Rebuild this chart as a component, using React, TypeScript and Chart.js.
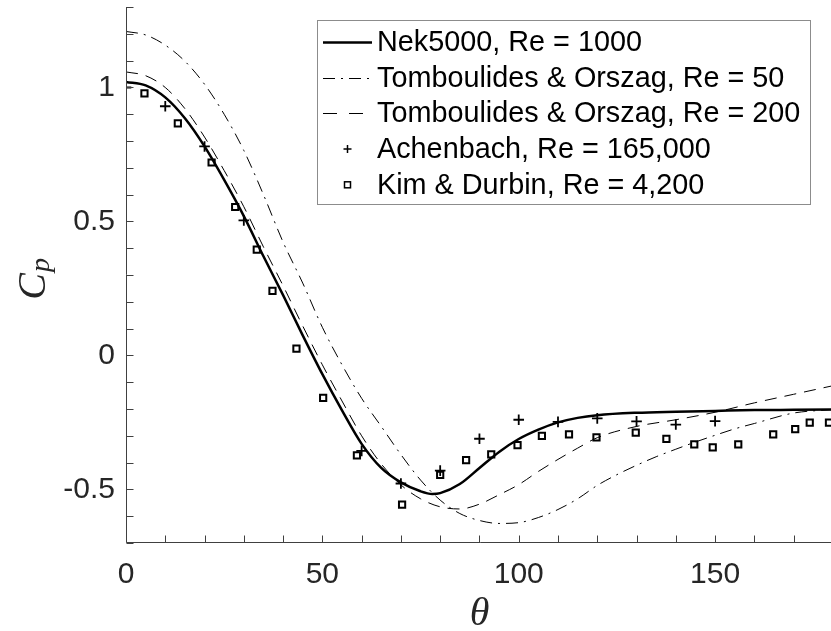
import React, { useEffect, useRef } from 'react';
import { Chart, registerables } from 'chart.js';
Chart.register(...registerables);

// ---- data ----
const thetaNek = [0, 5, 10, 15, 20, 25, 30, 35, 40, 45, 50, 55, 60, 65, 70, 75, 78, 80, 85, 90, 95, 100, 105, 110, 115, 120, 130, 140, 150, 160, 170, 180];
const cpNek = [1.021, 1.008, 0.963, 0.885, 0.78, 0.655, 0.52, 0.37, 0.225, 0.075, -0.07, -0.205, -0.33, -0.42, -0.474, -0.507, -0.517, -0.514, -0.48, -0.42, -0.36, -0.312, -0.277, -0.25, -0.233, -0.223, -0.214, -0.21, -0.207, -0.204, -0.203, -0.202];

const theta50 = [0, 5, 10, 15, 20, 25, 30, 35, 40, 45, 50, 55, 60, 65, 70, 75, 80, 85, 90, 95, 100, 105, 110, 115, 120, 125, 130, 135, 140, 145, 150, 155, 160, 170, 180];
const cp50 = [1.209, 1.196, 1.158, 1.098, 1.012, 0.9, 0.765, 0.6, 0.423, 0.27, 0.105, -0.035, -0.16, -0.265, -0.37, -0.465, -0.54, -0.59, -0.616, -0.627, -0.624, -0.605, -0.575, -0.535, -0.485, -0.445, -0.41, -0.378, -0.35, -0.323, -0.298, -0.274, -0.254, -0.215, -0.202];

const theta200 = [0, 5, 10, 15, 20, 25, 30, 35, 40, 45, 50, 55, 60, 65, 70, 75, 80, 85, 90, 95, 100, 105, 110, 115, 120, 130, 140, 150, 160, 170, 180];
const cp200 = [1.058, 1.044, 1.0, 0.921, 0.815, 0.69, 0.555, 0.405, 0.26, 0.11, -0.035, -0.17, -0.3, -0.405, -0.483, -0.535, -0.565, -0.573, -0.555, -0.52, -0.482, -0.433, -0.388, -0.346, -0.307, -0.265, -0.24, -0.212, -0.177, -0.145, -0.113];

const thetaAch = [0, 10, 20, 30, 60, 70, 80, 90, 100, 110, 120, 130, 140, 150];
const cpAch = [1.0, 0.93, 0.78, 0.504, -0.356, -0.478, -0.43, -0.311, -0.24, -0.248, -0.235, -0.246, -0.258, -0.245];

const thetaKim = [4.7, 13.2, 21.8, 27.8, 33.3, 37.3, 43.4, 50.2, 58.8, 70.3, 80.0, 86.6, 93.0, 99.7, 105.9, 112.8, 119.8, 129.8, 137.6, 144.7, 149.4, 155.9, 164.8, 170.4, 174.1, 179.0];
const cpKim = [0.978, 0.866, 0.72, 0.554, 0.395, 0.241, 0.025, -0.158, -0.373, -0.557, -0.446, -0.391, -0.369, -0.335, -0.3, -0.295, -0.306, -0.288, -0.311, -0.332, -0.343, -0.332, -0.295, -0.275, -0.251, -0.251];

const seriesLabels = [
  'Nek5000, Re = 1000',
  'Tomboulides & Orszag, Re = 50',
  'Tomboulides & Orszag, Re = 200',
  'Achenbach, Re = 165,000',
  'Kim & Durbin, Re = 4,200',
];

const xTickValues = [0, 50, 100, 150];
const yTickValues = [-0.5, 0, 0.5, 1];
const xRange = [0, 180];
const yRange = [-0.7, 1.3];
const xMinorStep = 10;
const yMinorStep = 0.1;

const toXY = (xs: number[], ys: number[]) => xs.map((x, i) => ({ x, y: ys[i] }));

const AXIS_COLOR = '#404040';
const SANS = '"Liberation Sans", Arial, Helvetica, sans-serif';
const SERIF = '"Liberation Serif", "Times New Roman", serif';

const axesPlugin = {
  id: 'matlabAxes',
  afterDatasetsDraw(chart: any) {
    const { ctx, chartArea } = chart;
    const xs = chart.scales.x;
    const ys = chart.scales.y;
    const L = Math.round(chartArea.left) + 0.5;
    const B = Math.round(chartArea.bottom) - 0.5;
    const tickLen = 7;
    ctx.save();
    ctx.strokeStyle = AXIS_COLOR;
    ctx.lineWidth = 1;
    ctx.beginPath();
    ctx.moveTo(L, Math.round(chartArea.top));
    ctx.lineTo(L, B);
    ctx.lineTo(Math.round(chartArea.right) + 1, B);
    const nx = Math.round((xRange[1] - xRange[0]) / xMinorStep);
    for (let i = 0; i <= nx; i++) {
      const v = xRange[0] + i * xMinorStep;
      const px = Math.round(xs.getPixelForValue(v)) + 0.5;
      ctx.moveTo(px, B);
      ctx.lineTo(px, B - tickLen);
    }
    const ny = Math.round((yRange[1] - yRange[0]) / yMinorStep);
    for (let i = 0; i <= ny; i++) {
      const v = yRange[0] + i * yMinorStep;
      const py = Math.round(ys.getPixelForValue(v)) + 0.5;
      ctx.moveTo(L, py);
      ctx.lineTo(L + tickLen, py);
    }
    ctx.stroke();

    // axis titles
    ctx.fillStyle = '#262626';
    ctx.textBaseline = 'alphabetic';
    ctx.font = `italic 40px ${SERIF}`;
    ctx.textAlign = 'center';
    const cx = (chartArea.left + chartArea.right) / 2;
    ctx.fillText('\u03B8', cx, 625);

    ctx.save();
    ctx.translate(45, (chartArea.top + chartArea.bottom) / 2);
    ctx.rotate(-Math.PI / 2);
    ctx.font = `italic 40px ${SERIF}`;
    ctx.textAlign = 'right';
    ctx.fillText('C', 2, 0);
    ctx.font = `italic 28px ${SERIF}`;
    ctx.textAlign = 'left';
    ctx.fillText('p', 3, 4);
    ctx.restore();
    ctx.restore();
  },
};

const legendPlugin = {
  id: 'matlabLegend',
  afterDraw(chart: any) {
    const { ctx } = chart;
    const x0 = 317.5, y0 = 20.5, w = 493, h = 184;
    ctx.save();
    ctx.fillStyle = '#ffffff';
    ctx.fillRect(x0, y0, w, h);
    ctx.strokeStyle = '#8c8c8c';
    ctx.lineWidth = 1;
    ctx.strokeRect(x0, y0, w, h);
    const rowH = 35.7;
    chart.data.datasets.forEach((ds: any, i: number) => {
      const cy = 42 + i * rowH;
      ctx.save();
      ctx.strokeStyle = '#000';
      if (ds.showLine) {
        ctx.lineWidth = ds.borderWidth;
        ctx.setLineDash(ds.legendDash || []);
        ctx.beginPath();
        ctx.moveTo(323, Math.round(cy) + (ds.borderWidth % 2 ? 0.5 : 0));
        ctx.lineTo(372, Math.round(cy) + (ds.borderWidth % 2 ? 0.5 : 0));
        ctx.stroke();
      } else if (ds.pointStyle === 'cross') {
        ctx.lineWidth = 1.5;
        ctx.beginPath();
        ctx.moveTo(343.5, cy); ctx.lineTo(351.5, cy);
        ctx.moveTo(347.5, cy - 4); ctx.lineTo(347.5, cy + 4);
        ctx.stroke();
      } else {
        ctx.lineWidth = 1.5;
        ctx.strokeRect(344.5, cy - 3, 6, 6);
      }
      ctx.restore();
      ctx.fillStyle = '#000';
      ctx.font = `28.8px ${SANS}`;
      ctx.textAlign = 'left';
      ctx.textBaseline = 'middle';
      ctx.fillText(ds.label, 377, cy + 1);
    });
    ctx.restore();
  },
};

export default function App() {
  const ref = useRef<HTMLCanvasElement | null>(null);
  useEffect(() => {
    if (!ref.current) return;
    const chart = new Chart(ref.current, {
      type: 'scatter',
      data: {
        datasets: [
          {
            label: seriesLabels[0],
            data: toXY(thetaNek, cpNek),
            showLine: true,
            borderColor: '#000',
            borderWidth: 2.5,
            pointRadius: 0,
            cubicInterpolationMode: 'monotone',
            legendDash: [],
          } as any,
          {
            label: seriesLabels[1],
            data: toXY(theta50, cp50),
            showLine: true,
            borderColor: '#000',
            borderWidth: 1,
            borderDash: [12, 6, 2, 6],
            pointRadius: 0,
            cubicInterpolationMode: 'monotone',
            legendDash: [12, 6, 2, 6],
          } as any,
          {
            label: seriesLabels[2],
            data: toXY(theta200, cp200),
            showLine: true,
            borderColor: '#000',
            borderWidth: 1,
            borderDash: [12, 8],
            pointRadius: 0,
            cubicInterpolationMode: 'monotone',
            legendDash: [14, 12],
          } as any,
          {
            label: seriesLabels[3],
            data: toXY(thetaAch, cpAch),
            showLine: false,
            pointStyle: 'cross',
            pointRadius: 5.3,
            pointBorderWidth: 1.8,
            borderColor: '#000',
            pointBorderColor: '#000',
            pointHoverRadius: 5.3,
          } as any,
          {
            label: seriesLabels[4],
            data: toXY(thetaKim, cpKim),
            showLine: false,
            pointStyle: 'rect',
            pointRadius: 4.4,
            pointBorderWidth: 2,
            borderColor: '#000',
            pointBorderColor: '#000',
            pointBackgroundColor: 'rgba(0,0,0,0)',
            backgroundColor: 'rgba(0,0,0,0)',
          } as any,
        ],
      },
      options: {
        responsive: false,
        animation: false,
        devicePixelRatio: 1,
        layout: { padding: { top: 3, right: 6, left: 0, bottom: 0 } },
        plugins: {
          legend: { display: false },
          tooltip: { enabled: false },
          title: { display: false },
        },
        scales: {
          x: {
            type: 'linear',
            min: xRange[0],
            max: xRange[1],
            afterBuildTicks: (s: any) => {
              s.ticks = xTickValues.map((v) => ({ value: v }));
            },
            afterFit: (s: any) => {
              s.height = 88;
              s.paddingLeft = 0;
              s.paddingRight = 0;
            },
            grid: { display: false, drawTicks: false },
            border: { display: false },
            ticks: {
              font: { family: SANS, size: 30 },
              color: '#262626',
              padding: 14,
              maxRotation: 0,
              autoSkip: false,
              callback: (v: any) => String(v),
            },
          },
          y: {
            type: 'linear',
            min: yRange[0],
            max: yRange[1],
            afterBuildTicks: (s: any) => {
              s.ticks = yTickValues.map((v) => ({ value: v }));
            },
            afterFit: (s: any) => {
              s.width = 126;
              s.paddingTop = 0;
              s.paddingBottom = 0;
            },
            grid: { display: false, drawTicks: false },
            border: { display: false },
            ticks: {
              font: { family: SANS, size: 30 },
              color: '#262626',
              padding: 11,
              autoSkip: false,
              callback: (v: any) => String(v),
            },
          },
        },
      } as any,
      plugins: [axesPlugin, legendPlugin],
    });
    return () => chart.destroy();
  }, []);

  return (
    <div style={{ position: 'absolute', left: 0, top: 0, width: 831, height: 631, overflow: 'hidden', background: '#fff' }}>
      <canvas ref={ref} width={840} height={631} style={{ display: 'block', width: 840, height: 631 }} />
    </div>
  );
}
